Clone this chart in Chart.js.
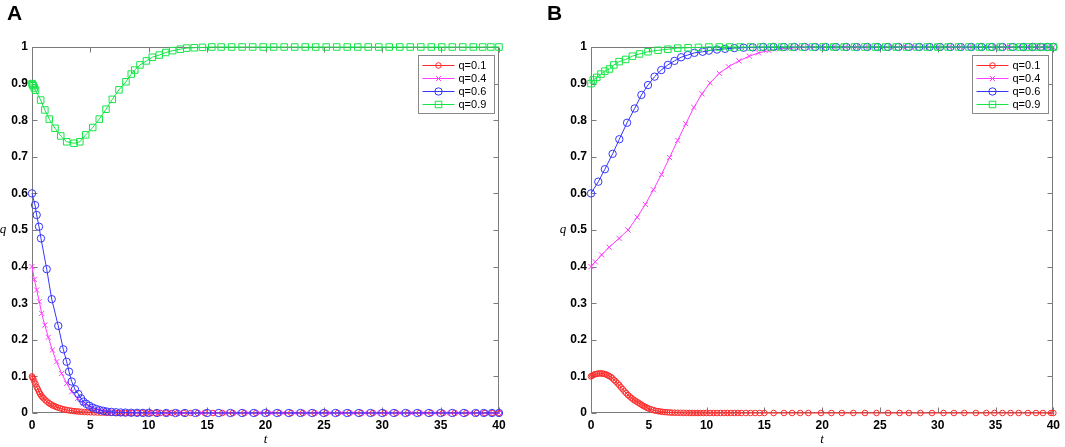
<!DOCTYPE html>
<html><head><meta charset="utf-8">
<script src="https://cdn.jsdelivr.net/npm/chart.js@4.4.0/dist/chart.umd.min.js"></script>
<style>
html,body{margin:0;padding:0;background:#fff;width:1065px;height:447px;overflow:hidden}
canvas{position:absolute;top:0}
#cA{left:0}
#cB{left:530px}
</style></head><body>
<canvas id="cA" width="530" height="447"></canvas>
<canvas id="cB" width="535" height="447"></canvas>
<script>
// ---------- Data ----------
const xTicks = [0,5,10,15,20,25,30,35,40];
const yTicks = [0,0.1,0.2,0.3,0.4,0.5,0.6,0.7,0.8,0.9,1];
const seriesNames = ['q=0.1','q=0.4','q=0.6','q=0.9'];

// Panel A
const tA_01 = [0,0.05,0.1,0.2,0.3,0.4,0.5,0.6,0.7,0.8, 0.9,1.0,1.15,1.3,1.45,1.6,1.75,1.9,2.05,2.2, 2.4,2.6,2.8,3.0,3.2,3.4,3.6,3.8,4.0,4.25, 4.5,4.75,5.0,5.3,5.6,5.9,6.2,6.5,6.8,7.1, 7.4,7.7,8.0,8.3,8.6,9.0,9.4,9.8,10.2,10.6, 11.0,11.5,12.0,12.5,13.0,13.6,14.2,14.8,15.5,16.3, 17.2,18.2,19.2,20.2,21.2,22.2,23.2,24.2,25.2,26.2, 27.2,28.2,29.2,30.2,31.2,32.2,33.2,34.2,35.2,36.2, 37.2,38.1,38.8,39.4,40];
const qA_01 = [0.100,0.097,0.094,0.086,0.079,0.071,0.065,0.058,0.052,0.047, 0.043,0.040,0.035,0.031,0.027,0.024,0.021,0.019,0.017,0.015, 0.013,0.011,0.0095,0.008,0.007,0.006,0.005,0.0045,0.004,0.0033, 0.0028,0.0023,0.002,0.0016,0.0013,0.001,0.0008,0.0006,0.0005,0.0004, 0.0003,0.0002,0.0002,0.0001,0.0001,0,0,0,0,0, 0,0,0,0,0,0,0,0,0,0, 0,0,0,0,0,0,0,0,0,0, 0,0,0,0,0,0,0,0,0,0, 0,0,0,0,0];

const tA_04 = [0,0.2,0.4,0.63,0.83,1.1,1.4,1.74,2.1,2.54, 2.97,3.4,3.9,4.4,5.0,5.6,6.2,6.9,7.6,8.4, 9.2,10.0,10.8,11.7,12.6,13.5,14.5,15.5,16.5,17.5, 18.5,19.5,20.5,21.5,22.5,23.5,24.5,25.5,26.5,27.5, 28.5,29.5,30.5,31.5,32.5,33.5,34.5,35.5,36.5,37.5, 38.4,39.2,40];
const qA_04 = [0.400,0.365,0.336,0.304,0.272,0.240,0.207,0.172,0.140,0.108, 0.081,0.058,0.040,0.026,0.016,0.010,0.006,0.003,0.002,0.001, 0,0,0,0,0,0,0,0,0,0, 0,0,0,0,0,0,0,0,0,0, 0,0,0,0,0,0,0,0,0,0, 0,0,0];

const tA_06 = [0,0.26,0.4,0.6,0.77,1.26,1.69,2.25,2.68,2.97, 3.17,3.4,3.68,3.97,4.2,4.4,4.65,4.9,5.2,5.5, 5.8,6.1,6.4,6.8,7.2,7.6,8.0,8.5,9.0,9.5, 10.0,10.7,11.5,12.3,13.1,14.0,15.0,16.0,17.0,18.0, 19.0,20.0,21.0,22.0,23.0,24.0,25.0,26.0,27.0,28.0, 29.0,30.0,31.0,32.0,33.0,34.0,35.0,36.0,37.0,38.0, 38.7,39.4,40];
const qA_06 = [0.600,0.568,0.541,0.509,0.477,0.393,0.311,0.238,0.174,0.140, 0.113,0.086,0.065,0.052,0.040,0.031,0.025,0.020,0.015,0.011, 0.008,0.006,0.004,0.003,0.002,0.0015,0.001,0.0007,0.0005,0.0003, 0.0002,0,0,0,0,0,0,0,0,0, 0,0,0,0,0,0,0,0,0,0, 0,0,0,0,0,0,0,0,0,0, 0,0,0];

const tA_09 = [0,0.05,0.1,0.2,0.3,0.74,1.1,1.48,1.97,2.46, 2.97,3.6,4.1,4.6,5.2,5.76,6.34,6.88,7.45,8.05, 8.5,8.8,9.25,9.8,10.3,10.9,11.45,12.05,12.7,13.25, 13.9,14.6,15.4,16.2,17.1,18.0,18.9,19.8,20.7,21.6, 22.5,23.4,24.3,25.2,26.1,27.0,27.9,28.8,29.7,30.6, 31.5,32.4,33.3,34.2,35.1,36.0,36.9,37.8,38.6,39.3, 40];
const qA_09 = [0.900,0.897,0.894,0.888,0.882,0.855,0.828,0.803,0.778,0.757, 0.741,0.737,0.741,0.760,0.780,0.803,0.830,0.857,0.883,0.905, 0.926,0.937,0.951,0.962,0.972,0.978,0.985,0.990,0.994,0.997, 0.998,0.999,1,1,1,1,1,1,1,1, 1,1,1,1,1,1,1,1,1,1, 1,1,1,1,1,1,1,1,1,1, 1];

// Panel B
const tB_01 = [0,0.1,0.2,0.35,0.5,0.65,0.8,0.95,1.1,1.25, 1.4,1.55,1.7,1.85,2.0,2.15,2.3,2.45,2.6,2.75, 2.9,3.05,3.2,3.35,3.5,3.65,3.8,3.95,4.1,4.25, 4.4,4.55,4.7,4.85,5.0,5.2,5.4,5.6,5.8,6.0, 6.2,6.4,6.6,6.8,7.0,7.25,7.5,7.75,8.0,8.25, 8.5,8.75,9.0,9.25,9.5,9.75,10.0,10.3,10.6,10.9, 11.2,11.5,11.8,12.1,12.4,12.7,13.0,13.4,13.8,14.2, 14.6,15.0,15.8,16.7,17.4,18.1,18.8,19.9,20.8,21.7, 22.7,23.7,24.7,25.7,26.7,27.5,28.5,29.5,30.5,31.4, 32.3,33.3,34.2,34.9,35.6,36.3,37.0,37.8,38.5,39.1, 39.8,40];
const qB_01 = [0.100,0.102,0.104,0.106,0.107,0.108,0.108,0.108,0.107,0.106, 0.104,0.101,0.099,0.095,0.090,0.086,0.081,0.076,0.070,0.065, 0.059,0.054,0.049,0.045,0.041,0.037,0.034,0.031,0.028,0.025, 0.022,0.019,0.017,0.014,0.012,0.010,0.008,0.006,0.005,0.004, 0.003,0.0025,0.002,0.0015,0.001,0.0008,0.0006,0.0004,0.0003,0.0002, 0,0,0,0,0,0,0,0,0,0, 0,0,0,0,0,0,0,0,0,0, 0,0,0,0,0,0,0,0,0,0, 0,0,0,0,0,0,0,0,0,0, 0,0,0,0,0,0,0,0,0,0, 0,0];

const tB_04 = [0,0.37,0.92,1.57,2.43,3.2,4.0,4.7,5.4,6.1, 6.8,7.5,8.2,8.9,9.6,10.3,11.1,11.9,12.8,13.7, 14.5,15.4,16.3,17.2,18.1,19.0,20.0,21.0,22.0,23.0, 24.0,25.0,26.0,27.0,28.0,29.0,30.0,31.0,32.0,33.0, 34.0,35.0,36.0,37.0,38.0,38.7,39.4,40];
const qB_04 = [0.400,0.413,0.432,0.453,0.477,0.500,0.535,0.570,0.610,0.652, 0.698,0.745,0.790,0.835,0.872,0.902,0.928,0.946,0.962,0.975, 0.984,0.990,0.995,0.997,0.999,1,1,1,1,1, 1,1,1,1,1,1,1,1,1,1, 1,1,1,1,1,1,1,1];

const tB_06 = [0,0.63,1.2,1.87,2.45,3.12,3.78,4.36,4.93,5.5, 6.08,6.65,7.22,7.8,8.37,8.95,9.66,10.2,10.9,11.6, 12.4,13.2,14.0,14.9,15.8,16.7,17.6,18.5,19.4,20.3, 21.2,22.1,23.0,23.9,24.8,25.7,26.6,27.5,28.4,29.3, 30.2,31.1,32.0,32.9,33.8,34.7,35.6,36.5,37.4,38.2, 38.9,39.5,40];
const qB_06 = [0.600,0.632,0.666,0.708,0.748,0.793,0.832,0.869,0.896,0.919, 0.937,0.951,0.962,0.972,0.978,0.984,0.987,0.990,0.993,0.995, 0.997,0.998,0.999,1,1,1,1,1,1,1, 1,1,1,1,1,1,1,1,1,1, 1,1,1,1,1,1,1,1,1,1, 1,1,1];

const tB_09 = [0,0.2,0.5,0.86,1.2,1.6,1.98,2.43,3.0,3.58, 4.2,4.93,5.8,6.65,7.5,8.4,9.3,10.2,11.1,12.0, 12.9,13.8,14.7,15.6,16.5,17.4,18.3,19.2,20.1,21.0, 21.9,22.8,23.7,24.6,25.5,26.4,27.3,28.2,29.1,30.0, 30.9,31.8,32.7,33.6,34.5,35.4,36.3,37.1,37.8,38.5, 39.1,39.6,40];
const qB_09 = [0.900,0.910,0.917,0.926,0.934,0.940,0.951,0.960,0.966,0.975, 0.981,0.987,0.991,0.994,0.997,0.998,0.999,1,1,1, 1,1,1,1,1,1,1,1,1,1, 1,1,1,1,1,1,1,1,1,1, 1,1,1,1,1,1,1,1,1,1, 1,1,1];

// ---------- Styles ----------
const COLORS = ['#ff2a2a','#ff3cff','#3535ff','#14e646'];
const PSTYLE = ['circle','crossRot','circle','rect'];
const PRAD   = [2.8, 3.6, 3.7, 4.6];
const ORDER  = [4,3,2,1];
const FONT = '"Liberation Sans", Arial, Helvetica, sans-serif';
const AXIS_GRAY = '#7b7b7b';

function pts(t,q){ const n=Math.min(t.length,q.length); const r=[]; for(let i=0;i<n;i++) r.push({x:t[i],y:q[i]}); return r; }

function drawMarker(ctx, style, r, x, y, color){
  ctx.save(); ctx.strokeStyle=color; ctx.lineWidth=1; ctx.beginPath();
  if(style==='circle'){ ctx.arc(x,y,r,0,Math.PI*2); }
  else if(style==='rect'){ const s=Math.SQRT1_2*r; ctx.rect(x-s,y-s,2*s,2*s); }
  else if(style==='crossRot'){ const s=Math.SQRT1_2*r; ctx.moveTo(x-s,y-s); ctx.lineTo(x+s,y+s); ctx.moveTo(x-s,y+s); ctx.lineTo(x+s,y-s); }
  ctx.stroke(); ctx.restore();
}

const framePlugin = {
  id:'frame',
  beforeDatasetsDraw(chart){
    const {ctx, chartArea:a, scales:{x,y}} = chart;
    const L=Math.round(a.left)+0.5, R=Math.round(a.right)-0.5, T=Math.round(a.top)+0.5, B=Math.round(a.bottom)-0.5;
    ctx.save();
    ctx.strokeStyle=AXIS_GRAY; ctx.lineWidth=1;
    ctx.beginPath(); ctx.rect(L,T,R-L,B-T); ctx.stroke();
    ctx.beginPath();
    x.ticks.forEach(tk=>{ const px=Math.round(x.getPixelForValue(tk.value))+0.5; ctx.moveTo(px,B); ctx.lineTo(px,B-5); ctx.moveTo(px,T); ctx.lineTo(px,T+5); });
    y.ticks.forEach(tk=>{ const py=Math.round(y.getPixelForValue(tk.value))+0.5; ctx.moveTo(L,py); ctx.lineTo(L+5,py); ctx.moveTo(R,py); ctx.lineTo(R-5,py); });
    ctx.stroke(); ctx.restore();
  },
  afterDraw(chart, args, opts){
    const {ctx, chartArea:a} = chart;
    ctx.save();
    // panel letter
    ctx.fillStyle='#000'; ctx.font='bold 21px '+FONT; ctx.textBaseline='alphabetic'; ctx.textAlign='left';
    ctx.fillText(opts.letter, opts.letterX, 20);
    // axis titles
    ctx.font='italic 13px "Liberation Serif", "DejaVu Serif", serif';
    ctx.textAlign='center'; ctx.textBaseline='middle';
    ctx.fillText('q', opts.qX, (a.top+a.bottom)/2);
    ctx.fillText('t', (a.left+a.right)/2, 440);
    // legend
    const w=76, h=58, bx=Math.round(a.right)-5-w+0.5, by=Math.round(a.top)+8+0.5;
    ctx.fillStyle='#fff'; ctx.fillRect(bx,by,w,h);
    ctx.strokeStyle='#8a8a8a'; ctx.lineWidth=1; ctx.strokeRect(bx,by,w,h);
    ctx.font='11px '+FONT; ctx.textAlign='left'; ctx.textBaseline='middle';
    chart.data.datasets.forEach((ds,i)=>{
      const ry=by+10+i*13;
      ctx.strokeStyle=ds.borderColor; ctx.beginPath(); ctx.moveTo(bx+4,ry); ctx.lineTo(bx+36,ry); ctx.stroke();
      drawMarker(ctx, ds.pointStyle, ds.pointRadius, bx+20, ry, ds.borderColor);
      ctx.fillStyle='#000'; ctx.fillText(ds.label, bx+40, ry+0.5);
    });
    ctx.restore();
  }
};

function makeChart(id, series, yWidth, padRight, letter, letterX, qX){
  const datasets = series.map((s,i)=>({
    label: seriesNames[i], data: pts(s[0],s[1]), showLine:true,
    borderColor: COLORS[i], borderWidth:1, tension:0, fill:false,
    pointStyle: PSTYLE[i], pointRadius: PRAD[i], pointHoverRadius: PRAD[i],
    pointBorderColor: COLORS[i], pointBackgroundColor:'rgba(0,0,0,0)', pointBorderWidth:1,
    order: ORDER[i], clip:false
  }));
  return new Chart(document.getElementById(id), {
    type:'scatter',
    data:{datasets},
    plugins:[framePlugin],
    options:{
      responsive:false, animation:false, devicePixelRatio:1,
      layout:{padding:{top:47, right:padRight, left:0, bottom:0}},
      plugins:{legend:{display:false}, tooltip:{enabled:false}, frame:{letter, letterX, qX}},
      scales:{
        x:{type:'linear', min:0, max:40, afterFit:(ax)=>{ax.height=34;},
           afterBuildTicks:(ax)=>{ax.ticks=xTicks.map(v=>({value:v}));},
           grid:{display:false, drawTicks:false}, border:{display:false},
           ticks:{color:'#000', font:{family:FONT, size:12, weight:'bold'}, padding:5, maxRotation:0, autoSkip:false}},
        y:{type:'linear', min:0, max:1, afterFit:(ax)=>{ax.width=yWidth;},
           afterBuildTicks:(ax)=>{ax.ticks=yTicks.map(v=>({value:v}));},
           grid:{display:false, drawTicks:false}, border:{display:false},
           ticks:{color:'#000', font:{family:FONT, size:12, weight:'bold'}, padding:4, autoSkip:false,
                  callback:(v)=>String(Math.round(v*10)/10)}}
      }
    }
  });
}

makeChart('cA', [[tA_01,qA_01],[tA_04,qA_04],[tA_06,qA_06],[tA_09,qA_09]], 32, 31, 'A', 7, 3);
makeChart('cB', [[tB_01,qB_01],[tB_04,qB_04],[tB_06,qB_06],[tB_09,qB_09]], 61, 9, 'B', 17, 33);
</script>
</body></html>
